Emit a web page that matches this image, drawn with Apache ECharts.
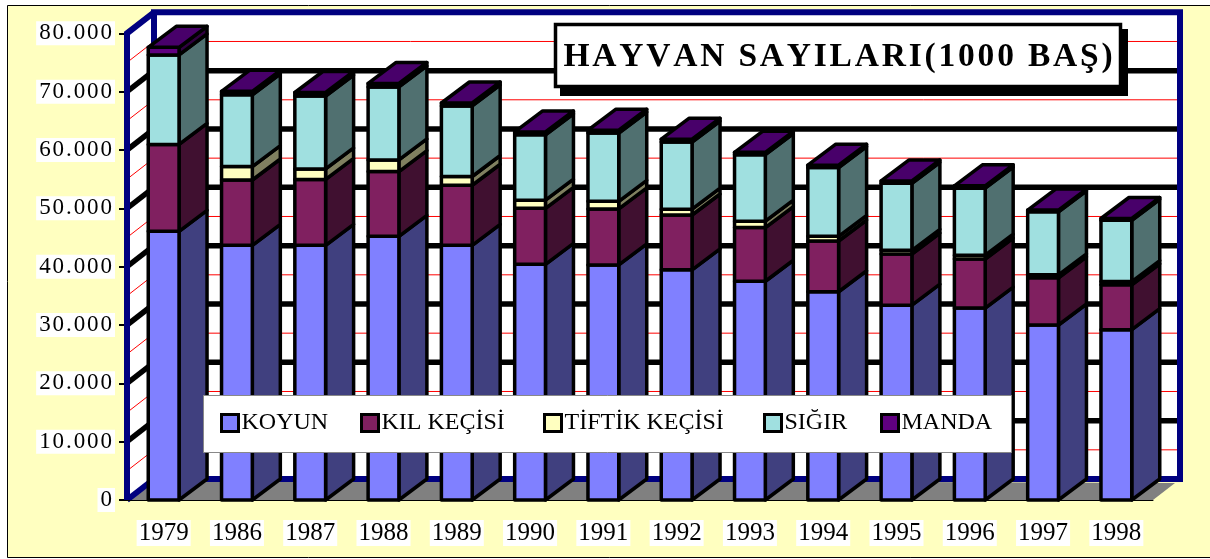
<!DOCTYPE html>
<html><head><meta charset="utf-8">
<script src="https://cdn.jsdelivr.net/npm/echarts@6/dist/echarts.min.js"></script>
<style>html,body{margin:0;padding:0;background:#fff}#c{width:1210px;height:559px}</style>
</head><body><div id="c"></div>
<script>
// ---- data (1000 head) ----
const years = ['1979','1986','1987','1988','1989','1990','1991','1992','1993','1994','1995','1996','1997','1998'];
const koyun  = [46050,43650,43650,45200,43650,40400,40300,39450,37500,35700,33400,32900,30000,29200];
const kil    = [14900,11200,11300,11100,10300, 9600, 9600, 9400, 9200, 8700, 8750, 8400, 8100, 7700];
const tiftik = [    0, 2300, 1800, 2000, 1500, 1400, 1300, 1000, 1100,  800,  650,  650,  500,  550];
const sigir  = [15350,12300,12500,12500,12100,11200,11700,11500,11400,11800,11500,11500,10800,10500];
const manda  = [ 1300,  600,  600,  600,  500,  500,  500,  500,  400,  400,  400,  400,  300,  300];
const seriesNames = ['KOYUN','KIL KEÇİSİ','TİFTİK KEÇİSİ','SIĞIR','MANDA'];
const yTickValues = [0,10000,20000,30000,40000,50000,60000,70000,80000];
const yTickLabels = ['0','10.000','20.000','30.000','40.000','50.000','60.000','70.000','80.000'];
const yMinorValues = [5000,15000,25000,35000,45000,55000,65000,75000];
const chartTitle = 'HAYVAN SAYILARI(1000 BAŞ)';

// ---- styling ----
const FRONT = ['#8080FF','#802060','#FFFFC0','#A0E0E0','#600080'];
const SIDE  = ['#40407F','#401030','#808060','#507070','#300040'];
const TOPC  = '#48006A';
const DX = 28, DY = -21;      // bar depth
const WDX = 27, WDY = -21;    // wall depth
const FONT = '"Liberation Serif","Times New Roman",serif';
const sp = s => s.split('').join('\u200A');
const legendItemX = [220, 360, 543, 763, 880];

const all = [koyun, kil, tiftik, sigir, manda];
let cum = years.map(() => 0);
const stacked = all.map(arr => {
  const d = arr.map((v, i) => [i, cum[i], cum[i] + v]);
  cum = cum.map((c, i) => c + arr[i]);
  return d;
});

function barRender(k) {
  return function (params, api) {
    const i = api.value(0), b = api.value(1), t = api.value(2);
    if (t <= b) return null;
    const band = api.size([1, 0])[0];
    const w = band * 0.42;
    const pb = api.coord([i, b]), pt = api.coord([i, t]);
    const x0 = pb[0] - w / 2, x1 = pb[0] + w / 2, yb = pb[1], yt = pt[1];
    const st = { stroke: '#000', lineWidth: 3.5, lineJoin: 'round' };
    const ch = [
      { type: 'polygon', shape: { points: [[x1, yb], [x1 + DX, yb + DY], [x1 + DX, yt + DY], [x1, yt]] }, style: Object.assign({ fill: SIDE[k] }, st) },
      { type: 'rect', shape: { x: x0, y: yt, width: w, height: yb - yt }, style: Object.assign({ fill: FRONT[k] }, st) }
    ];
    if (k === all.length - 1) {
      ch.push({ type: 'polygon', shape: { points: [[x0, yt], [x0 + DX, yt + DY], [x1 + DX, yt + DY], [x1, yt]] }, style: Object.assign({ fill: TOPC }, st) });
    }
    return { type: 'group', children: ch };
  };
}

function wallRender(params, api) {
  const band = api.size([1, 0])[0];
  const xL = api.coord([0, 0])[0] - band / 2;
  const xR = api.coord([years.length - 1, 0])[0] + band / 2;
  const y0 = api.coord([0, 0])[1];
  const yT = api.coord([0, yTickValues[yTickValues.length - 1]])[1];
  const ch = [];
  ch.push({ type: 'rect', shape: { x: xL + WDX, y: yT + WDY, width: xR - xL, height: y0 - yT }, style: { fill: '#fff' } });
  ch.push({ type: 'polygon', shape: { points: [[xL, y0], [xL + WDX, y0 + WDY], [xL + WDX, yT + WDY], [xL, yT]] }, style: { fill: '#fff' } });
  yMinorValues.forEach(v => {
    const y = api.coord([0, v])[1];
    ch.push({ type: 'line', shape: { x1: xL + WDX, y1: y + WDY, x2: xR + WDX, y2: y + WDY }, style: { stroke: '#FF0000', lineWidth: 1 } });
    ch.push({ type: 'line', shape: { x1: xL, y1: y, x2: xL + WDX, y2: y + WDY }, style: { stroke: '#FF0000', lineWidth: 1 } });
  });
  yTickValues.slice(1, -1).forEach(v => {
    const y = api.coord([0, v])[1];
    ch.push({ type: 'line', shape: { x1: xL + WDX, y1: y + WDY, x2: xR + WDX, y2: y + WDY }, style: { stroke: '#000', lineWidth: 5.5 } });
    ch.push({ type: 'line', shape: { x1: xL, y1: y, x2: xL + WDX, y2: y + WDY }, style: { stroke: '#000', lineWidth: 5.5 } });
  });
  ch.push({ type: 'polygon', shape: { points: [[xL, y0], [xR, y0], [xR + WDX - 5, y0 + WDY + 4], [xL + WDX, y0 + WDY]] }, style: { fill: '#808080' } });
  const blue = { stroke: '#000080', lineWidth: 6, fill: null, lineJoin: 'miter' };
  ch.push({ type: 'rect', shape: { x: xL + WDX, y: yT + WDY, width: xR - xL, height: y0 - yT }, style: blue });
  ch.push({ type: 'polyline', shape: { points: [[xL, y0], [xL, yT], [xL + WDX, yT + WDY]] }, style: blue });
  ch.push({ type: 'line', shape: { x1: xL, y1: y0, x2: xL + WDX, y2: y0 + WDY }, style: blue });
  return { type: 'group', children: ch };
}

const chart = echarts.init(document.getElementById('c'), null, { renderer: 'canvas' });
const series = [{
  type: 'custom', name: '_walls', coordinateSystem: 'cartesian2d', renderItem: wallRender,
  data: [[0, 0]], silent: true, z: 1, clip: false
}];
seriesNames.forEach((n, k) => series.push({
  type: 'custom', name: n, coordinateSystem: 'cartesian2d', renderItem: barRender(k),
  encode: { x: 0, y: [1, 2] }, data: stacked[k], z: 2, clip: false,
  itemStyle: { color: FRONT[k] }
}));

const legends = seriesNames.map((n, k) => ({
  data: [n], left: legendItemX[k], top: 411, orient: 'horizontal',
  padding: 0, itemWidth: 17, itemHeight: 17,
  icon: 'rect', selectedMode: false, z: 10,
  itemStyle: { borderColor: '#000', borderWidth: 3 },
  textStyle: { fontFamily: FONT, fontSize: 24, color: '#000', padding: [0, 0, 0, -2] }
}));

chart.setOption({
  animation: false,
  backgroundColor: '#fff',
  grid: { left: 127, right: 57, top: 33.3, bottom: 59 },
  xAxis: {
    type: 'category', data: years, z: 5,
    axisLine: { lineStyle: { color: '#000', width: 1 } },
    axisTick: { length: 8, lineStyle: { color: '#000', width: 1.5 } },
    axisLabel: { fontFamily: FONT, fontSize: 25, color: '#000', margin: 20, backgroundColor: '#fff', padding: [1, 2, 0, 2] }
  },
  yAxis: {
    type: 'value', min: 0, max: 80000, interval: 10000,
    splitLine: { show: false },
    axisLine: { show: false },
    axisTick: { show: true, length: 8, lineStyle: { color: '#000', width: 2 } },
    axisLabel: {
      fontFamily: FONT, fontSize: 23, color: '#000', margin: 12, backgroundColor: '#fff', padding: [1, 3, 0, 3],
      formatter: v => sp(yTickLabels[yTickValues.indexOf(v)] || '')
    }
  },
  legend: legends,
  graphic: [
    { type: 'rect', z: -100, silent: true, shape: { x: 7.5, y: 5.5, width: 1215, height: 552 }, style: { fill: '#FFFFC0', stroke: '#000', lineWidth: 1 } },
    { type: 'rect', z: 9, silent: true, shape: { x: 203.5, y: 395.5, width: 808, height: 57 }, style: { fill: '#fff', stroke: '#888', lineWidth: 1 } },
    { type: 'rect', z: 20, silent: true, shape: { x: 560, y: 29, width: 568, height: 67 }, style: { fill: '#000' } },
    { type: 'rect', z: 21, silent: true, shape: { x: 555.5, y: 24.5, width: 565, height: 62 }, style: { fill: '#fff', stroke: '#000', lineWidth: 3.5 } },
    { type: 'text', z: 22, silent: true, x: 838, y: 57, style: { text: sp(chartTitle), fontSize: 33.5, fontWeight: 'bold', fontFamily: FONT, fill: '#000', align: 'center', verticalAlign: 'middle' } }
  ],
  series: series
});
</script></body></html>
